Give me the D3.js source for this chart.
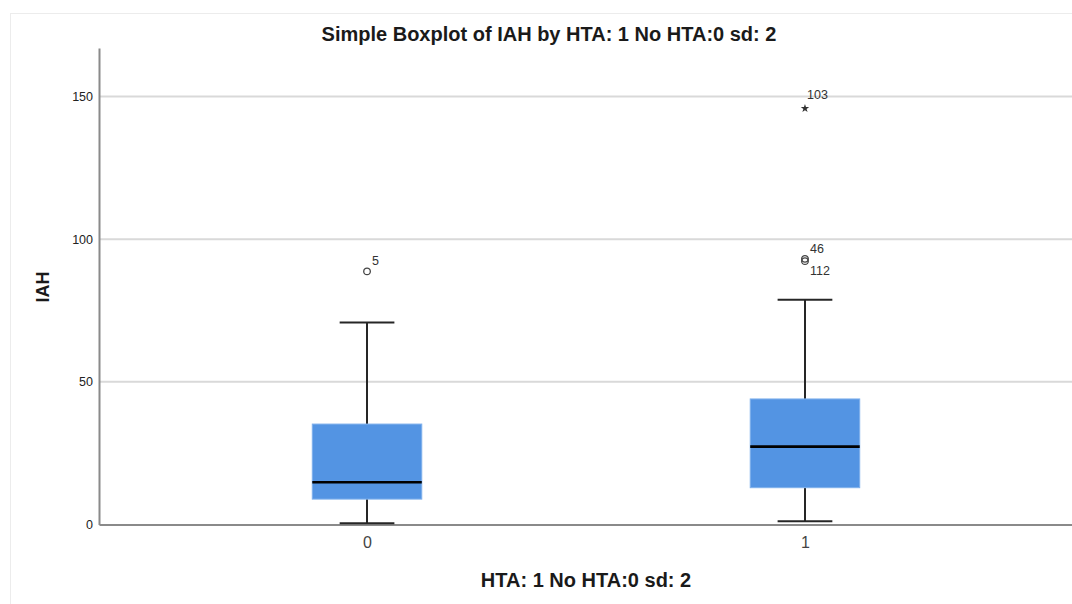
<!DOCTYPE html>
<html>
<head>
<meta charset="utf-8">
<script src="https://cdn.jsdelivr.net/npm/d3@7"></script>
<style>
  body { margin: 0; background: #fff; }
  svg { display: block; font-family: "Liberation Sans", Arial, sans-serif; }
</style>
</head>
<body>
<svg width="1072" height="604"></svg>
<script>
// box summary per HTA group
const groups = ["0", "1"];
const whiskerLow = [0.4, 1.1];
const q1 = [8.9, 12.9];
const median = [14.8, 27.3];
const q3 = [35.2, 44.0];
const whiskerHigh = [70.8, 78.8];

// outliers (case numbers as labels)
const outlierGroup = ["0", "1", "1", "1"];
const outlierValue = [88.7, 93.1, 92.3, 145.8];
const outlierId = ["5", "46", "112", "103"];
const outlierShape = ["circle", "circle", "circle", "star"];
const outlierLabelSide = ["above", "above", "below", "above"];

const yTicks = [0, 50, 100, 150];

const svg = d3.select("svg");
const margin = {top: 48, right: -1, bottom: 79.5, left: 99};
const width = 1072 - margin.left - margin.right;
const height = 604 - margin.top - margin.bottom;

// light frame round the chart
svg.append("rect")
  .attr("x", 10.5).attr("y", 13.5)
  .attr("width", 1100).attr("height", 700)
  .attr("fill", "none")
  .attr("stroke", "#ececec");

const g = svg.append("g")
  .attr("transform", `translate(${margin.left},${margin.top})`);

const x = d3.scalePoint().domain(groups).range([0, width]).padding(0.612);
const y = d3.scaleLinear().domain([0, 167]).range([height, 0]);

const boxW = x.step() * 0.25;

// gridlines
g.append("g")
  .selectAll("line")
  .data(yTicks.filter(d => d > 0))
  .join("line")
  .attr("x1", 0).attr("x2", width)
  .attr("y1", d => y(d)).attr("y2", d => y(d))
  .attr("stroke", "#d9d9d9")
  .attr("stroke-width", 2);

// y axis
const yAxis = g.append("g")
  .call(d3.axisLeft(y).tickValues(yTicks).tickSize(0).tickPadding(6));
yAxis.select(".domain").attr("stroke", "#8a8a8a").attr("stroke-width", 2);
yAxis.selectAll("text")
  .attr("fill", "#222")
  .style("font-size", "12.5px");

// x axis
const xAxis = g.append("g")
  .attr("transform", `translate(0,${height})`)
  .call(d3.axisBottom(x).tickSize(0).tickPadding(12));
xAxis.select(".domain").attr("stroke", "#8a8a8a").attr("stroke-width", 2);
xAxis.selectAll("text")
  .attr("fill", "#444")
  .style("font-size", "16px");

// boxes
const boxes = g.append("g")
  .selectAll("g")
  .data(groups.map((d, i) => ({
    key: d, lo: whiskerLow[i], q1: q1[i], med: median[i], q3: q3[i], hi: whiskerHigh[i]
  })))
  .join("g")
  .attr("transform", d => `translate(${x(d.key)},0)`);

boxes.append("line")
  .attr("y1", d => y(d.lo)).attr("y2", d => y(d.q1))
  .attr("stroke", "#262626").attr("stroke-width", 2);
boxes.append("line")
  .attr("y1", d => y(d.q3)).attr("y2", d => y(d.hi))
  .attr("stroke", "#262626").attr("stroke-width", 2);
boxes.append("line")
  .attr("x1", -boxW / 4).attr("x2", boxW / 4)
  .attr("y1", d => y(d.lo)).attr("y2", d => y(d.lo))
  .attr("stroke", "#262626").attr("stroke-width", 2);
boxes.append("line")
  .attr("x1", -boxW / 4).attr("x2", boxW / 4)
  .attr("y1", d => y(d.hi)).attr("y2", d => y(d.hi))
  .attr("stroke", "#262626").attr("stroke-width", 2);
boxes.append("rect")
  .attr("x", -boxW / 2)
  .attr("width", boxW)
  .attr("y", d => y(d.q3))
  .attr("height", d => y(d.q1) - y(d.q3))
  .attr("fill", "#5394e3")
  .attr("stroke", "#7fb0ec")
  .attr("stroke-width", 1);
boxes.append("line")
  .attr("x1", -boxW / 2).attr("x2", boxW / 2)
  .attr("y1", d => y(d.med)).attr("y2", d => y(d.med))
  .attr("stroke", "#000").attr("stroke-width", 2.6);

// outliers
const outliers = outlierValue.map((v, i) => ({
  key: outlierGroup[i], value: v, id: outlierId[i], shape: outlierShape[i], side: outlierLabelSide[i]
}));

const pts = g.append("g")
  .selectAll("g")
  .data(outliers)
  .join("g")
  .attr("transform", d => `translate(${x(d.key)},${y(d.value)})`);

pts.filter(d => d.shape === "circle")
  .append("circle")
  .attr("r", 3.3)
  .attr("fill", "none")
  .attr("stroke", "#444")
  .attr("stroke-width", 1.3);

pts.filter(d => d.shape === "star")
  .append("path")
  .attr("d", d3.symbol(d3.symbolStar, 22))
  .attr("fill", "#333");

pts.append("text")
  .attr("x", d => d.shape === "star" ? 2 : 5)
  .attr("y", d => d.side === "above" ? (d.shape === "star" ? -9 : -6) : 14)
  .attr("fill", "#333")
  .style("font-size", "12.5px")
  .text(d => d.id);

// titles
svg.append("text")
  .attr("x", 549).attr("y", 41)
  .attr("text-anchor", "middle")
  .style("font-size", "20px")
  .style("font-weight", "bold")
  .attr("fill", "#1a1a1a")
  .text("Simple Boxplot of IAH by HTA: 1 No HTA:0 sd: 2");

svg.append("text")
  .attr("x", margin.left + width / 2).attr("y", 587)
  .attr("text-anchor", "middle")
  .style("font-size", "20px")
  .style("font-weight", "bold")
  .attr("fill", "#1a1a1a")
  .text("HTA: 1 No HTA:0 sd: 2");

svg.append("text")
  .attr("transform", "translate(49,287) rotate(-90)")
  .attr("text-anchor", "middle")
  .style("font-size", "18px")
  .style("font-weight", "bold")
  .attr("fill", "#1a1a1a")
  .text("IAH");
</script>
</body>
</html>
